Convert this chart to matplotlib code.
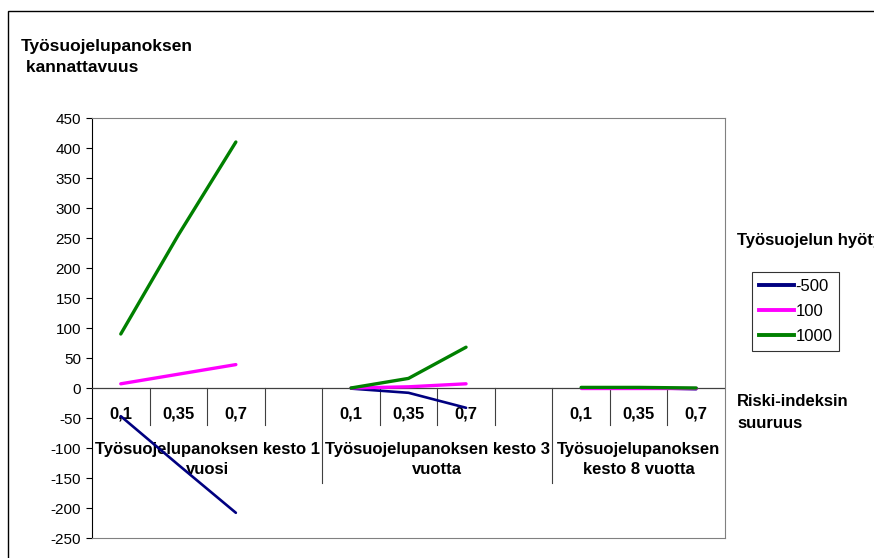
"""
Työsuojelupanoksen kannattavuus - line chart with grouped category axis.
"""

import matplotlib

matplotlib.use("Agg")
import matplotlib.pyplot as plt
from matplotlib.patches import Rectangle
from matplotlib.lines import Line2D
import numpy as np

W, H = 874, 558

risk_levels = ["0,1", "0,35", "0,7"]
group_labels = [
    "Työsuojelupanoksen kesto 1\nvuosi",
    "Työsuojelupanoksen kesto 3\nvuotta",
    "Työsuojelupanoksen\nkesto 8 vuotta",
]
series_names = ["-500", "100", "1000"]
values_m500 = [-47, -128, -208, -1, -8, -33, 0, 0, -2]
values_100 = [7, 23, 39, 0, 2, 7, 0, 0, 0]
values_1000 = [90, 255, 410, 0, 16, 68, 1, 1, 0]
y_ticks = np.arange(-250, 451, 50)

colors = ["#000080", "#ff00ff", "#008000"]
widths = [1.9, 2.4, 2.4]

plt.rcParams["font.family"] = ["Liberation Sans", "DejaVu Sans"]


def fx(px):
    return px / W


def fy(py):
    return 1 - py / H


fig = plt.figure(figsize=(W / 100, H / 100), dpi=100)
ax = fig.add_axes([fx(92), fy(538), fx(725) - fx(92), fy(118) - fy(538)])

# outer chart frame (cut off at right / bottom like the original)
fig.patches.append(
    Rectangle((fx(8), -0.1), 1.2, fy(11) + 0.1, transform=fig.transFigure,
              fill=False, edgecolor="black", linewidth=1.0)
)

n_slots = 11
for name, vals, col, lw in zip(series_names, [values_m500, values_100, values_1000],
                               colors, widths):
    for g in range(3):
        xs = [g * 4 + i + 0.5 for i in range(3)]
        ax.plot(xs, vals[g * 3:(g + 1) * 3], color=col, linewidth=lw,
                solid_capstyle="round", zorder=5)

ax.set_xlim(0, n_slots)
ax.set_ylim(-250, 450)
ax.set_yticks(y_ticks)
ax.set_yticklabels([str(v) for v in y_ticks], fontsize=11)
ax.tick_params(axis="y", direction="out", length=4.5, width=0.8, pad=3.5)
ax.set_xticks([])
for s in ax.spines.values():
    s.set_color("#808080")
    s.set_linewidth(0.8)
ax.spines["left"].set_color("black")

# zero line / category axis
ax.axhline(0, color="#404040", linewidth=0.9, zorder=3)

# category separators below the zero line
for k in range(1, n_slots):
    bottom = -158 if k in (4, 8) else -62
    ax.plot([k, k], [0, bottom], color="#404040", linewidth=0.8, zorder=3)

# category labels
for g in range(3):
    for i, lab in enumerate(risk_levels):
        ax.text(g * 4 + i + 0.5, -43, lab, ha="center", va="center",
                fontsize=12, fontweight="bold", zorder=4)
group_centers = [2, 6, 9.5]
for c, lab in zip(group_centers, group_labels):
    ax.text(c, -119, lab, ha="center", va="center", fontsize=12,
            fontweight="bold", linespacing=1.4, zorder=4)

# texts around the plot
fig.text(fx(21), fy(47), "Työsuojelupanoksen", fontsize=12.5, fontweight="bold",
         va="center", ha="left")
fig.text(fx(21), fy(67), " kannattavuus", fontsize=12.5, fontweight="bold",
         va="center", ha="left")
fig.text(fx(737), fy(240), "Työsuojelun hyöty", fontsize=12, fontweight="bold",
         va="center", ha="left")
fig.text(fx(737), fy(401), "Riski-indeksin", fontsize=12, fontweight="bold",
         va="center", ha="left")
fig.text(fx(737), fy(424), "suuruus", fontsize=12, fontweight="bold",
         va="center", ha="left")

# legend
handles = [Line2D([0], [0], color=c, linewidth=2.8) for c in colors]
leg = fig.legend(handles, series_names, loc="upper left",
                 bbox_to_anchor=(fx(752), fy(272)), frameon=True, fancybox=False,
                 fontsize=12, handlelength=2.1, handletextpad=0.12,
                 borderpad=0.4, labelspacing=0.62, borderaxespad=0)
leg.get_frame().set_edgecolor("black")
leg.get_frame().set_linewidth(0.8)

fig.savefig("out.png", dpi=100)
